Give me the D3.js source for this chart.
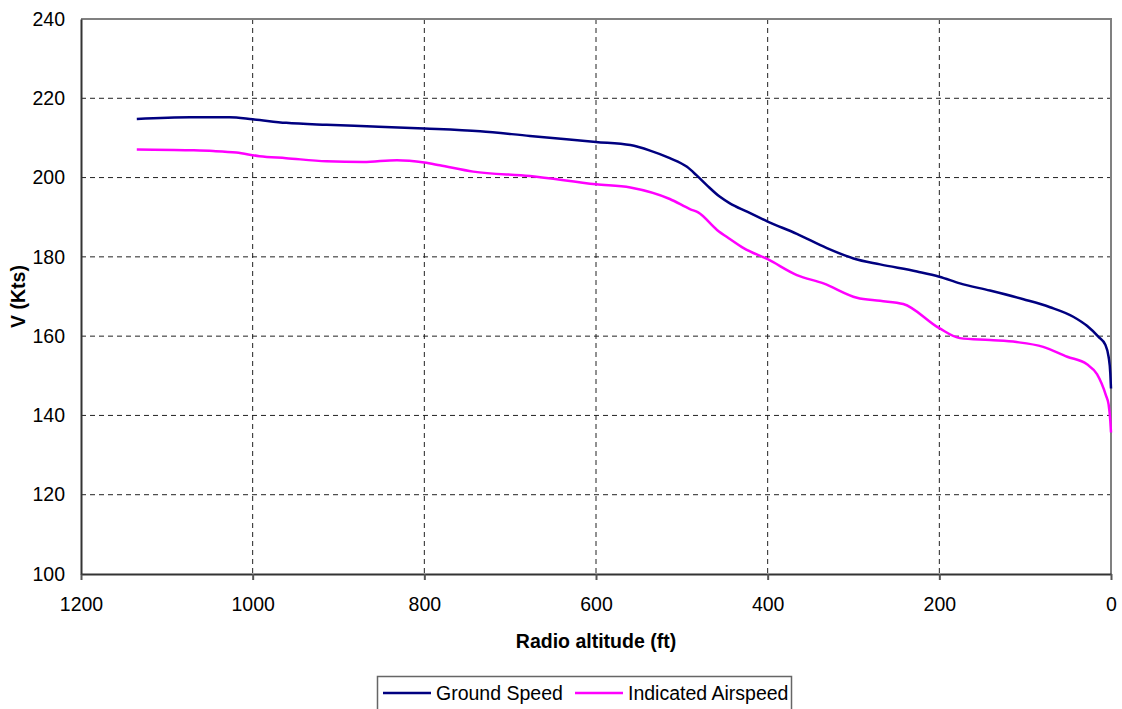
<!DOCTYPE html>
<html>
<head>
<meta charset="utf-8">
<script src="https://cdn.jsdelivr.net/npm/d3@7"></script>
<style>
  body { margin: 0; background: #fff; }
  text { font-family: "Liberation Sans", Arial, sans-serif; }
</style>
</head>
<body>
<div id="chart"></div>
<script>
// Radio altitude (ft) and speeds (kts)
const gsAlt = [1135, 1073, 1027, 1000, 961, 914, 860, 800, 735, 677, 600, 560, 537, 514, 494, 483, 471, 456, 444, 424, 400, 366, 331, 300, 269, 226, 200, 176, 141, 102, 71, 44, 28, 14.5, 6.6, 2.8, 0.8, 0];
const gsVal = [214.8, 215.2, 215.2, 214.7, 213.8, 213.3, 212.9, 212.4, 211.7, 210.5, 209.0, 208.2, 206.8, 204.9, 202.7, 200.6, 198.1, 195.2, 193.5, 191.4, 188.9, 185.8, 182.2, 179.6, 178.1, 176.3, 175.0, 173.3, 171.5, 169.3, 167.3, 164.9, 162.6, 159.8, 157.8, 154.8, 150.6, 146.8];

const iasAlt = [1135, 1073, 1046, 1019, 992, 961, 914, 871, 832, 800, 782, 743, 677, 600, 560, 514, 490, 481, 459, 444, 428, 400, 366, 335, 296, 269, 242, 200, 176, 141, 110, 79, 51, 28, 16.3, 5.8, 2.8, 0.8, 0];
const iasVal = [207.1, 206.9, 206.7, 206.3, 205.4, 204.9, 204.1, 203.9, 204.4, 203.8, 203.1, 201.5, 200.4, 198.3, 197.5, 194.6, 192.0, 191.2, 186.8, 184.5, 182.2, 179.4, 175.4, 173.3, 169.7, 168.9, 168.1, 162.0, 159.5, 159.0, 158.5, 157.3, 154.8, 152.9, 150.4, 145.0, 142.8, 138.6, 135.7];

const xTicks = [1200, 1000, 800, 600, 400, 200, 0];
const yTicks = [100, 120, 140, 160, 180, 200, 220, 240];

const seriesNames = ["Ground Speed", "Indicated Airspeed"];
const seriesColors = ["#000080", "#ff00ff"];

const W = 1122, H = 709;
const plot = { left: 81, right: 1111, top: 19, bottom: 574 };

const svg = d3.select("#chart").append("svg")
  .attr("width", W)
  .attr("height", H);

const x = d3.scaleLinear().domain([1200, 0]).range([plot.left, plot.right]);
const y = d3.scaleLinear().domain([100, 240]).range([plot.bottom, plot.top]);

// Gridlines
svg.append("g")
  .selectAll("line")
  .data(yTicks.filter(d => d > 100 && d < 240))
  .enter().append("line")
  .attr("x1", plot.left).attr("x2", plot.right)
  .attr("y1", d => y(d)).attr("y2", d => y(d))
  .attr("stroke", "#222")
  .attr("stroke-width", 1)
  .attr("stroke-dasharray", "5,4");

svg.append("g")
  .selectAll("line")
  .data(xTicks.filter(d => d > 0 && d < 1200))
  .enter().append("line")
  .attr("x1", d => x(d)).attr("x2", d => x(d))
  .attr("y1", plot.top).attr("y2", plot.bottom)
  .attr("stroke", "#222")
  .attr("stroke-width", 1)
  .attr("stroke-dasharray", "5,4");

// Plot border (top / right)
svg.append("path")
  .attr("d", `M${plot.left},${plot.top}H${plot.right}V${plot.bottom}`)
  .attr("fill", "none")
  .attr("stroke", "#808080")
  .attr("stroke-width", 2);

// X axis
const xAxis = svg.append("g")
  .attr("transform", `translate(0,${plot.bottom})`)
  .call(d3.axisBottom(x).tickValues(xTicks).tickFormat(d3.format("d"))
    .tickSize(6).tickPadding(17).tickSizeOuter(0));
xAxis.select(".domain").attr("stroke", "#333").attr("stroke-width", 2);
xAxis.selectAll(".tick line").attr("stroke", "#555").attr("stroke-width", 2);
xAxis.selectAll("text").style("font-size", "19.5px").attr("fill", "#000");

// Y axis
const yAxis = svg.append("g")
  .attr("transform", `translate(${plot.left},0)`)
  .call(d3.axisLeft(y).tickValues(yTicks).tickFormat(d3.format("d"))
    .tickSize(0).tickPadding(16).tickSizeOuter(0));
yAxis.select(".domain").attr("stroke", "#333").attr("stroke-width", 2);
yAxis.selectAll("text").style("font-size", "19.5px").attr("fill", "#000");

// Lines
const line = d3.line()
  .x(d => x(d[0]))
  .y(d => y(d[1]))
  .curve(d3.curveMonotoneX);

const series = [
  d3.zip(gsAlt, gsVal),
  d3.zip(iasAlt, iasVal)
];

svg.selectAll(".series")
  .data(series)
  .enter().append("path")
  .attr("class", "series")
  .attr("d", line)
  .attr("fill", "none")
  .attr("stroke", (d, i) => seriesColors[i])
  .attr("stroke-width", 2.5)
  .attr("stroke-linejoin", "round");

// Axis titles
svg.append("text")
  .attr("x", (plot.left + plot.right) / 2)
  .attr("y", 648)
  .attr("text-anchor", "middle")
  .style("font-size", "19.5px")
  .style("font-weight", "bold")
  .text("Radio altitude (ft)");

svg.append("text")
  .attr("transform", `translate(25,${(plot.top + plot.bottom) / 2}) rotate(-90)`)
  .attr("text-anchor", "middle")
  .style("font-size", "19.5px")
  .style("font-weight", "bold")
  .text("V (Kts)");

// Legend
const legend = svg.append("g");
legend.append("rect")
  .attr("x", 377.5).attr("y", 676.5)
  .attr("width", 414).attr("height", 40)
  .attr("fill", "#fff")
  .attr("stroke", "#666")
  .attr("stroke-width", 1.5);

const legendX = [383, 575];
seriesNames.forEach((name, i) => {
  legend.append("line")
    .attr("x1", legendX[i]).attr("x2", legendX[i] + 48)
    .attr("y1", 693).attr("y2", 693)
    .attr("stroke", seriesColors[i])
    .attr("stroke-width", 2.5);
  legend.append("text")
    .attr("x", legendX[i] + 53)
    .attr("y", 699.5)
    .style("font-size", "19.5px")
    .text(name);
});
</script>
</body>
</html>
